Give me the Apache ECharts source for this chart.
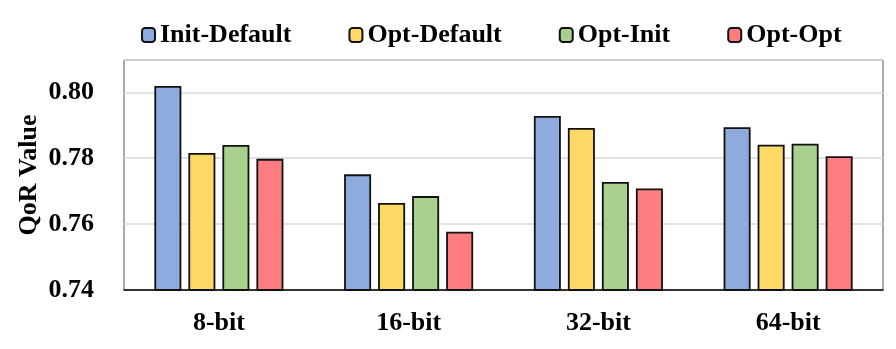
<html>
<head>
<meta charset="utf-8">
<script src="https://cdn.jsdelivr.net/npm/echarts@6/dist/echarts.min.js"></script>
</head>
<body>
<style>
    html, body, #main { width: 100%; height: 100%; margin: 0; background: #fff; }
</style>
<div id="main"></div>
<script>
    var categories = ['8-bit', '16-bit', '32-bit', '64-bit'];
    var initDefault = [0.8019, 0.7751, 0.7928, 0.7894];
    var optDefault  = [0.7816, 0.7664, 0.7892, 0.7841];
    var optInit     = [0.7840, 0.7685, 0.7728, 0.7844];
    var optOpt      = [0.7798, 0.7577, 0.7708, 0.7806];
    var yTicks = [0.74, 0.76, 0.78, 0.80];

    var font = 'Liberation Serif';
    var chart = echarts.init(document.getElementById('main'));

    function bar(name, data, color) {
        return {
            name: name,
            type: 'bar',
            data: data,
            barWidth: 27,
            barGap: '26%',
            itemStyle: { color: color, borderColor: '#111', borderWidth: 1.8 }
        };
    }

    var option = {
        animation: false,
        legend: {
            top: 17,
            left: 136,
            itemWidth: 13,
            itemHeight: 14,
            itemGap: 57,
            textStyle: { fontFamily: font, fontWeight: 'bold', fontSize: 26, color: '#000' },
            data: ['Init-Default', 'Opt-Default', 'Opt-Init', 'Opt-Opt']
        },
        grid: {
            left: 124, right: 13, top: 60, bottom: 59,
            show: true, borderColor: '#555', borderWidth: 1
        },
        xAxis: {
            type: 'category',
            data: categories,
            axisTick: { show: false },
            axisLine: { lineStyle: { color: '#000', width: 1.5 } },
            axisLabel: { fontFamily: font, fontWeight: 'bold', fontSize: 26, color: '#000', margin: 20 }
        },
        yAxis: {
            type: 'value',
            min: 0.74,
            max: 0.8098,
            interval: 0.02,
            name: 'QoR Value',
            nameLocation: 'middle',
            nameGap: 82,
            nameMoveOverlap: false,
            nameTextStyle: { fontFamily: font, fontWeight: 'bold', fontSize: 26, color: '#000' },
            axisLabel: {
                fontFamily: font, fontWeight: 'bold', fontSize: 26, color: '#000', margin: 30,
                formatter: function (v) {
                    for (var i = 0; i < yTicks.length; i++) {
                        if (Math.abs(v - yTicks[i]) < 1e-6) return yTicks[i].toFixed(2);
                    }
                    return '';
                }
            },
            axisLine: { show: false },
            axisTick: { show: false },
            splitLine: { lineStyle: { color: '#d9d9d9', width: 1.5 } }
        },
        series: [
            bar('Init-Default', initDefault, '#8faadc'),
            bar('Opt-Default', optDefault, '#ffd966'),
            bar('Opt-Init', optInit, '#a9d18e'),
            bar('Opt-Opt', optOpt, '#ff7c80')
        ]
    };
    chart.setOption(option);
    window.onresize = chart.resize;
</script>
</body>
</html>
